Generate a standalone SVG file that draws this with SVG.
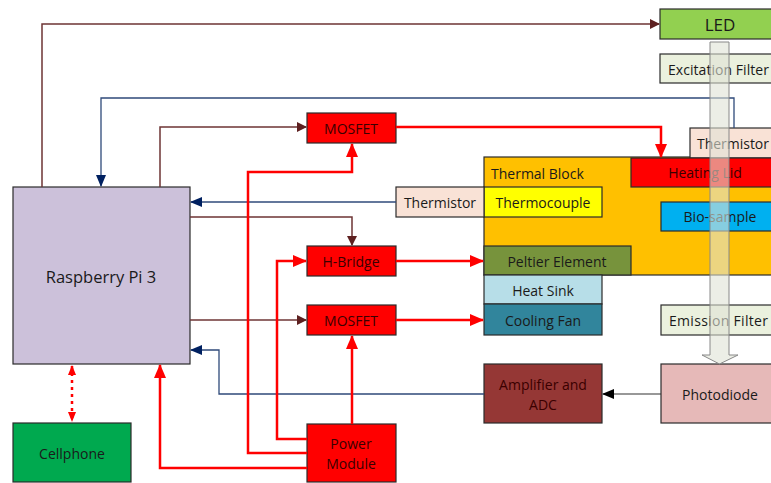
<svg xmlns="http://www.w3.org/2000/svg" width="771" height="483" viewBox="0 0 771 483">
<style>
  .box { stroke: #2b2b2b; stroke-width: 1.2; }
  .t { font-family: "Open Sans", "Liberation Sans", sans-serif; font-size: 14px; text-anchor: middle; dominant-baseline: central; fill: #1a1a1a; }
  .tr { fill: #3a0000; }
  .brown { fill: none; stroke: #6e3535; stroke-width: 1.5; }
  .blue { fill: none; stroke: #2f4a7a; stroke-width: 1.3; }
  .red { fill: none; stroke: #ff0000; stroke-width: 2.5; }
  .black { fill: none; stroke: #333; stroke-width: 1.2; }
</style>
<defs>
  <marker id="ab" markerWidth="10" markerHeight="10" refX="9" refY="5" orient="auto" markerUnits="userSpaceOnUse"><path d="M0,0 L10,5 L0,10 Z" fill="#5e2020"/></marker>
  <marker id="an" markerWidth="12" markerHeight="10" refX="11" refY="5" orient="auto" markerUnits="userSpaceOnUse"><path d="M0,0 L12,5 L0,10 Z" fill="#002060"/></marker>
  <marker id="ar" markerWidth="14" markerHeight="12" refX="13" refY="6" orient="auto" markerUnits="userSpaceOnUse"><path d="M0,0 L14,6 L0,12 Z" fill="#ff0000"/></marker>
  <marker id="ars" markerWidth="10" markerHeight="8" refX="9" refY="4" orient="auto-start-reverse" markerUnits="userSpaceOnUse"><path d="M0,0 L10,4 L0,8 Z" fill="#ff0000"/></marker>
  <marker id="ak" markerWidth="12" markerHeight="10" refX="11" refY="5" orient="auto" markerUnits="userSpaceOnUse"><path d="M0,0 L12,5 L0,10 Z" fill="#000"/></marker>
</defs>

<g id="thermal-block"><rect class="box" x="484" y="157" width="300" height="118" fill="#ffc000"/><text class="t" x="491" y="173" style="text-anchor:start">Thermal Block</text></g>
<g id="thermistor-top"><rect class="box" x="690" y="128" width="95" height="30" fill="#f9e2d6"/><text class="t" x="697" y="143" style="text-anchor:start" textLength="72">Thermistor</text></g>
<g id="heating-lid"><rect class="box" x="631" y="158" width="150" height="29" fill="#ff0000"/><text class="t tr" x="705" y="172">Heating Lid</text></g>
<g id="thermocouple"><rect class="box" x="484" y="187" width="118" height="30" fill="#ffff00"/><text class="t" x="543" y="202">Thermocouple</text></g>
<g id="thermistor-left"><rect class="box" x="396" y="187" width="88" height="30" fill="#f9e2d6"/><text class="t" x="440" y="202">Thermistor</text></g>
<g id="bio-sample"><rect class="box" x="661" y="202" width="120" height="29" fill="#00b0f0"/><text class="t" x="720" y="216">Bio-sample</text></g>
<g id="peltier"><rect class="box" x="484" y="246" width="147" height="29" fill="#77933c"/><text class="t" x="557" y="261">Peltier Element</text></g>
<g id="heat-sink"><rect class="box" x="484" y="275" width="118" height="29" fill="#b7dee8"/><text class="t" x="543" y="290">Heat Sink</text></g>
<g id="cooling-fan"><rect class="box" x="484" y="304" width="118" height="31" fill="#31859c"/><text class="t" x="543" y="320">Cooling Fan</text></g>
<g id="led"><rect class="box" x="660" y="9" width="120" height="30" fill="#92d050"/><text class="t" x="720" y="24" style="font-size:17px">LED</text></g>
<g id="excitation-filter"><rect class="box" x="660" y="54" width="120" height="29" fill="#ebf1de"/><text class="t" x="668" y="69" style="text-anchor:start" textLength="101">Excitation Filter</text></g>
<g id="emission-filter"><rect class="box" x="661" y="305" width="120" height="30" fill="#ebf1de"/><text class="t" x="669" y="320" style="text-anchor:start" textLength="99">Emission Filter</text></g>
<g id="photodiode"><rect class="box" x="661" y="364" width="120" height="59" fill="#e6b9b8"/><text class="t" x="720" y="394">Photodiode</text></g>
<g id="amplifier"><rect class="box" x="484" y="364" width="118" height="59" fill="#953735"/><text class="t tr" x="543" y="384">Amplifier and</text><text class="t tr" x="543" y="404">ADC</text></g>
<g id="raspberry-pi"><rect class="box" x="13" y="187" width="177" height="177" fill="#ccc1da"/><text class="t" x="101" y="276" style="font-size:16.5px">Raspberry Pi 3</text></g>
<g id="mosfet1"><rect class="box" x="307" y="113" width="89" height="30" fill="#ff0000"/><text class="t tr" x="351" y="128">MOSFET</text></g>
<g id="h-bridge"><rect class="box" x="307" y="246" width="89" height="30" fill="#ff0000"/><text class="t tr" x="351" y="261">H-Bridge</text></g>
<g id="mosfet2"><rect class="box" x="307" y="305" width="89" height="30" fill="#ff0000"/><text class="t tr" x="351" y="320">MOSFET</text></g>
<g id="power-module"><rect class="box" x="307" y="424" width="89" height="58" fill="#ff0000"/><text class="t tr" x="351" y="443">Power</text><text class="t tr" x="351" y="463">Module</text></g>
<g id="cellphone"><rect class="box" x="13" y="423" width="118" height="59" fill="#00a94f"/><text class="t" x="72" y="453">Cellphone</text></g>

<g id="connectors">
  <path class="brown" d="M42,187 V24 H659" marker-end="url(#ab)"/>
  <path class="brown" d="M160,187 V127 H306" marker-end="url(#ab)"/>
  <path class="brown" d="M190,217 H352 V245" marker-end="url(#ab)"/>
  <path class="brown" d="M190,320 H306" marker-end="url(#ab)"/>
  <path class="blue" d="M734,128 V98 H101 V186" marker-end="url(#an)"/>
  <path class="blue" d="M396,202 H191" marker-end="url(#an)"/>
  <path class="blue" d="M484,394 H219 V350 H191" marker-end="url(#an)"/>
  <path class="black" d="M661,394 H603" marker-end="url(#ak)"/>
  <path class="red" d="M396,127 H661 V157" marker-end="url(#ar)"/>
  <path class="red" d="M396,261 H483" marker-end="url(#ar)"/>
  <path class="red" d="M396,320 H483" marker-end="url(#ar)"/>
  <path class="red" d="M307,453 H248 V172 H352 V144" marker-end="url(#ar)"/>
  <path class="red" d="M307,439 H277 V261 H306" marker-end="url(#ar)"/>
  <path class="red" d="M352,424 V336" marker-end="url(#ar)"/>
  <path class="red" d="M307,468 H160 V365" marker-end="url(#ar)"/>
  <path fill="none" stroke="#ff0000" stroke-width="2.5" stroke-dasharray="3,4" d="M72,366 V421" marker-start="url(#ars)" marker-end="url(#ars)"/>
  <path d="M710,42 H729 V355 H738 L719.5,364 L702,355 H710 Z" fill="#dfe2d6" fill-opacity="0.6" stroke="#888" stroke-width="1"/>
</g>
</svg>
